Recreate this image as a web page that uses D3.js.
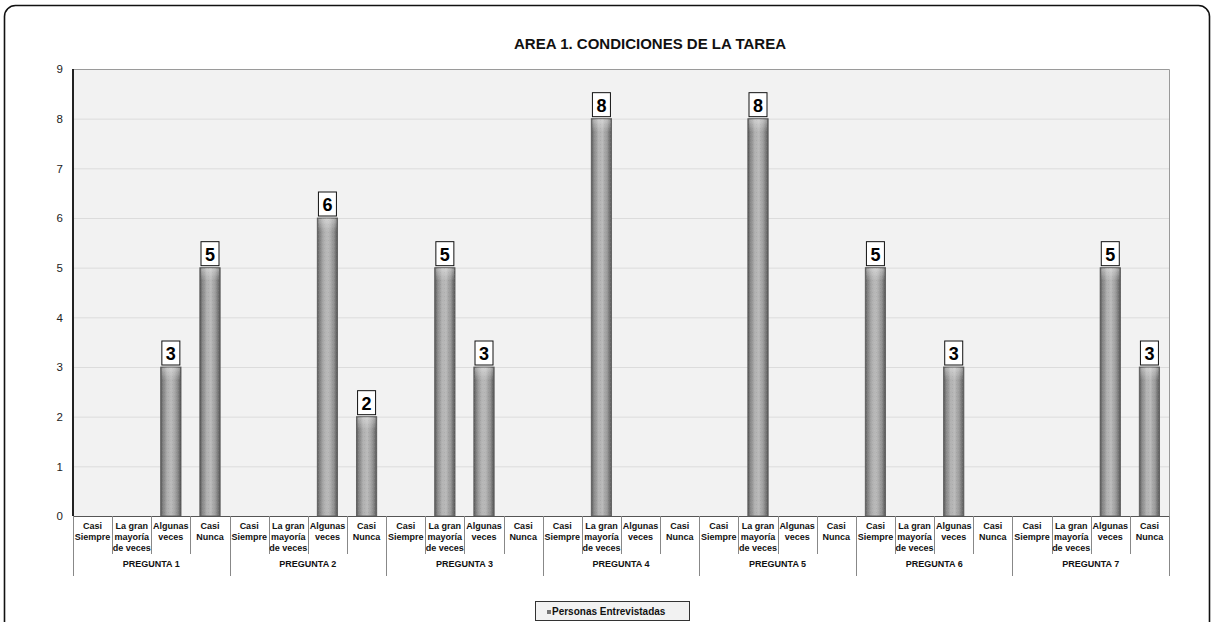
<!DOCTYPE html>
<html><head><meta charset="utf-8">
<script src="https://cdn.jsdelivr.net/npm/d3@7"></script>
<style>html,body{margin:0;padding:0;background:#fff;}svg{display:block;font-family:Arial,"Liberation Sans",sans-serif;}</style>
</head><body>
<svg id="c" width="1214" height="622"></svg>
<script>
const title = "AREA 1. CONDICIONES DE LA TAREA";
const groups = ["PREGUNTA 1","PREGUNTA 2","PREGUNTA 3","PREGUNTA 4","PREGUNTA 5","PREGUNTA 6","PREGUNTA 7"];
const subcategories = [["Casi","Siempre"],["La gran","mayoría","de veces"],["Algunas","veces"],["Casi","Nunca"]];
const values = [
  [0,0,3,5],
  [0,0,6,2],
  [0,5,3,0],
  [0,8,0,0],
  [0,8,0,0],
  [5,0,3,0],
  [0,0,5,3]
];
const yTicks = [0,1,2,3,4,5,6,7,8,9];
const seriesName = "Personas Entrevistadas";

const svg = d3.select("#c");
const defs = svg.append("defs");
const g1 = defs.append("linearGradient").attr("id","barg").attr("x1","0").attr("x2","1").attr("y1","0").attr("y2","0");
[["0%","#555"],["12%","#858585"],["35%","#b2b2b2"],["55%","#bababa"],["80%","#959595"],["100%","#555"]]
  .forEach(([o,c])=>g1.append("stop").attr("offset",o).attr("stop-color",c));
const g2 = defs.append("linearGradient").attr("id","capg").attr("x1","0").attr("x2","0").attr("y1","0").attr("y2","1");
[["0%","rgba(255,255,255,0.35)"],["100%","rgba(255,255,255,0)"]]
  .forEach(([o,c])=>g2.append("stop").attr("offset",o).attr("stop-color",c));
const pat = defs.append("pattern").attr("id","tex").attr("width",4).attr("height",4).attr("patternUnits","userSpaceOnUse");
pat.append("rect").attr("x",0).attr("y",0).attr("width",1).attr("height",1).attr("fill","rgba(0,0,0,0.06)");
pat.append("rect").attr("x",2).attr("y",2).attr("width",1).attr("height",1).attr("fill","rgba(255,255,255,0.08)");

// outer frame
svg.append("rect").attr("x",4.5).attr("y",5.5).attr("width",1205).attr("height",630).attr("rx",11)
  .attr("fill","#fff").attr("stroke","#111").attr("stroke-width",1.6);

const L = 73, R = 1169, T = 69, B = 516;
const flat = [];
values.forEach((arr,gi)=>arr.forEach((v,si)=>flat.push({gi,si,v,key:gi+"-"+si})));
const x = d3.scaleBand().domain(flat.map(d=>d.key)).range([L,R]).paddingInner(0.48).paddingOuter(0.24);
const step = x.step();
const y = d3.scaleLinear().domain([0,9]).range([B,T]);

// plot background
svg.append("rect").attr("x",L).attr("y",T).attr("width",R-L).attr("height",B-T).attr("fill","#f2f2f2");
// gridlines
svg.append("g").selectAll("line").data(yTicks.filter(t=>t>0&&t<9)).join("line")
  .attr("x1",L).attr("x2",R).attr("y1",d=>y(d)+0.5).attr("y2",d=>y(d)+0.5).attr("stroke","#dcdcdc").attr("stroke-width",1);
// plot border top/right
svg.append("path").attr("d",`M${L},${T+0.5}H${R+0.5}V${B}`).attr("fill","none").attr("stroke","#9a9a9a").attr("stroke-width",1);

// y axis
const yAxis = svg.append("g").attr("transform",`translate(${L},0)`)
  .call(d3.axisLeft(y).tickValues(yTicks).tickSize(0).tickPadding(10).tickFormat(d3.format("d")));
yAxis.select(".domain").remove();
yAxis.selectAll("text").attr("font-size",11.5).attr("fill","#222").attr("font-family","Arial,'Liberation Sans',sans-serif");
svg.append("line").attr("x1",L).attr("x2",L).attr("y1",T).attr("y2",B).attr("stroke","#222").attr("stroke-width",2);

// bars
const bw = x.bandwidth();
const bars = svg.append("g").selectAll("g").data(flat.filter(d=>d.v>0)).join("g");
bars.append("rect").attr("x",d=>x(d.key)).attr("y",d=>y(d.v)).attr("width",bw).attr("height",d=>B-y(d.v))
  .attr("fill","url(#barg)").attr("stroke","#5a5a5a").attr("stroke-width",0.8);
bars.append("rect").attr("x",d=>x(d.key)).attr("y",d=>y(d.v)).attr("width",bw).attr("height",d=>B-y(d.v))
  .attr("fill","url(#tex)");
bars.append("rect").attr("x",d=>x(d.key)+1).attr("y",d=>y(d.v)+1).attr("width",bw-2).attr("height",12)
  .attr("fill","url(#capg)");

// labels
const lab = svg.append("g").selectAll("g").data(flat.filter(d=>d.v>0)).join("g")
  .attr("transform",d=>`translate(${x(d.key)+bw/2},${y(d.v)})`);
lab.append("rect").attr("x",-9).attr("y",-26).attr("width",18).attr("height",24).attr("fill","#fff").attr("stroke","#111").attr("stroke-width",1);
lab.append("text").attr("x",0).attr("y",-7).attr("text-anchor","middle").attr("font-size",18).attr("font-weight","bold").attr("fill","#000").text(d=>d.v);

// x axis line
svg.append("line").attr("x1",L).attr("x2",R).attr("y1",B+0.5).attr("y2",B+0.5).attr("stroke","#555").attr("stroke-width",1.2);

// category ticks
const cat = svg.append("g");
flat.forEach((d,i)=>{
  const x0 = x(d.key) - (step-bw)/2;
  const isGroup = d.si===0;
  cat.append("line").attr("x1",Math.round(x0)+0.5).attr("x2",Math.round(x0)+0.5).attr("y1",B).attr("y2",isGroup?576:554)
    .attr("stroke","#888").attr("stroke-width",1);
  const t = cat.append("text").attr("text-anchor","middle").attr("font-size",9).attr("font-weight","bold").attr("fill","#111");
  subcategories[d.si].forEach((ln,li)=>t.append("tspan").attr("x",x(d.key)+bw/2).attr("y",529+li*11).text(ln));
});
cat.append("line").attr("x1",R+0.5).attr("x2",R+0.5).attr("y1",B).attr("y2",576).attr("stroke","#888");
groups.forEach((gname,gi)=>{
  const x0 = x(gi+"-0") - (step-bw)/2;
  cat.append("text").attr("x",x0+2*step).attr("y",567).attr("text-anchor","middle").attr("font-size",9).attr("font-weight","bold").attr("fill","#111").text(gname);
});

// title
svg.append("text").attr("x",650).attr("y",49).attr("text-anchor","middle").attr("font-size",15).attr("font-weight","bold").attr("fill","#111").text(title);

// legend
const lg = svg.append("g");
lg.append("rect").attr("x",535.5).attr("y",601.5).attr("width",154).attr("height",19).attr("fill","#f2f2f2").attr("stroke","#333");
lg.append("rect").attr("x",547).attr("y",610).attr("width",4).attr("height",4).attr("fill","#777");
lg.append("text").attr("x",552).attr("y",615).attr("font-size",10).attr("font-weight","bold").attr("fill","#111").text(seriesName);
</script>
</body></html>
